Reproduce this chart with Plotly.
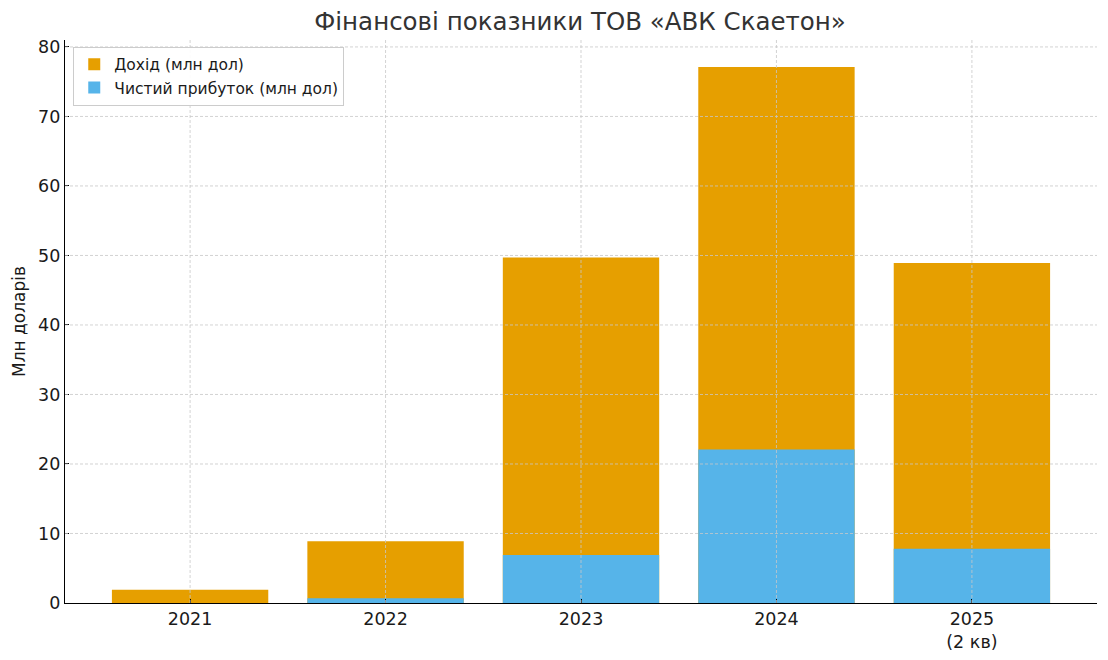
import plotly.graph_objects as go

years = ["2021", "2022", "2023", "2024", "2025<br>(2 кв)"]
revenue = [1.9, 8.9, 49.7, 77.1, 48.9]
profit = [0.0, 0.7, 6.9, 22.1, 7.8]
y_ticks = [0, 10, 20, 30, 40, 50, 60, 70, 80]

fig = go.Figure()
fig.add_trace(go.Bar(x=years, y=revenue, name="Дохід (млн дол)",
                     marker=dict(color="#E69F00", line=dict(width=0)), width=0.8))
fig.add_trace(go.Bar(x=years, y=profit, name="Чистий прибуток (млн дол)",
                     marker=dict(color="#56B4E9", line=dict(width=0)), width=0.8))

# grid drawn over the bars, like the original
grid = dict(color="#c8c8c8", width=0.8, dash="3px,2px")
for v in y_ticks[1:]:
    fig.add_shape(type="line", xref="x domain", yref="y", x0=0, x1=1, y0=v, y1=v,
                  line=grid, layer="above")
for i in range(len(years)):
    fig.add_shape(type="line", xref="x", yref="y domain", x0=i, x1=i, y0=0, y1=1,
                  line=grid, layer="above")

fig.update_layout(
    barmode="overlay",
    width=1100, height=652,
    font=dict(family="DejaVu Sans", size=17.5, color="#1a1a1a"),
    title=dict(text="Фінансові показники ТОВ «АВК Скаетон»", x=0.52, y=0.979,
               xanchor="center", yanchor="middle", font=dict(size=24.5, color="#333333")),
    plot_bgcolor="white", paper_bgcolor="white",
    margin=dict(l=57, r=11, t=32, b=57),
    legend=dict(x=0.008, y=0.988, xanchor="left", yanchor="top",
                bgcolor="rgba(255,255,255,0.9)", bordercolor="#cccccc", borderwidth=1,
                font=dict(size=15.5)),
    showlegend=True,
)
fig.update_xaxes(type="category", showgrid=False, showline=True, linecolor="black",
                 linewidth=1.2, ticks="inside", ticklen=4, tickcolor="black",
                 range=[-0.64, 4.64], automargin=False)
fig.update_yaxes(showgrid=False, showline=True, linecolor="black", linewidth=1.2,
                 ticks="inside", ticklen=4, tickcolor="black", range=[0, 81],
                 tickvals=y_ticks, zeroline=False, automargin=False,
                 title=dict(text="Млн доларів", standoff=8, font=dict(size=17)))

fig.write_html("out.html")
